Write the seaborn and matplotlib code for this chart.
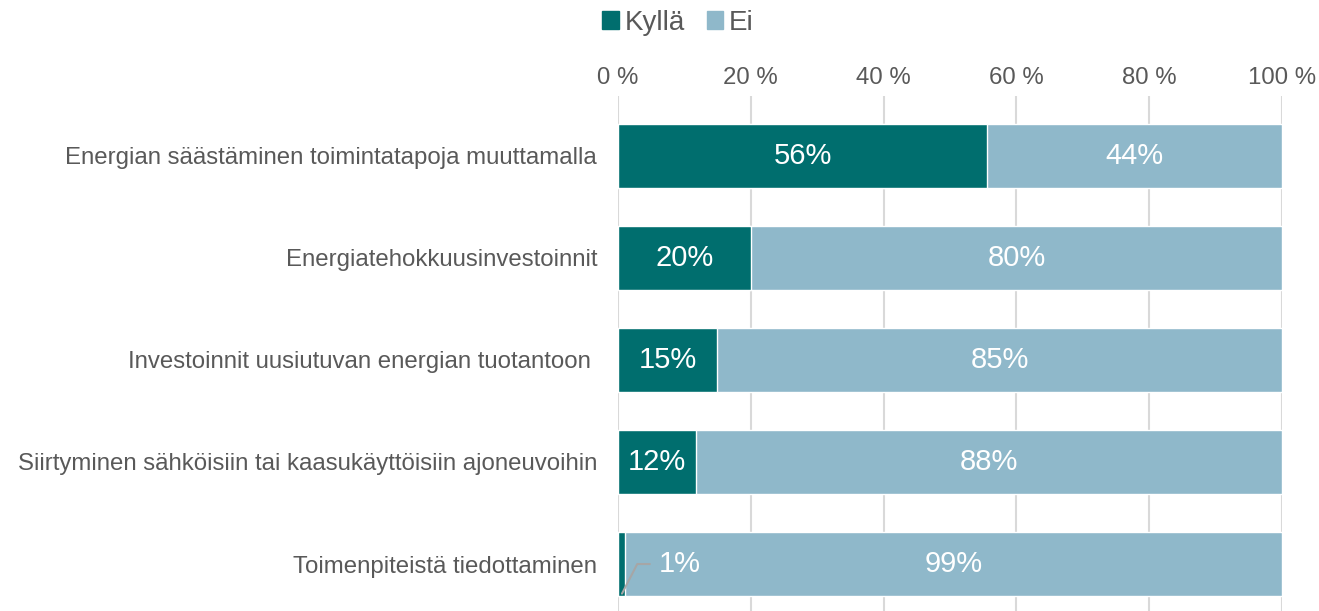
import matplotlib
matplotlib.use("Agg")
import matplotlib.pyplot as plt
import seaborn as sns
import pandas as pd
from matplotlib.patches import Patch

categories = [
    "Energian säästäminen toimintatapoja muuttamalla",
    "Energiatehokkuusinvestoinnit",
    "Investoinnit uusiutuvan energian tuotantoon ",
    "Siirtyminen sähköisiin tai kaasukäyttöisiin ajoneuvoihin",
    "Toimenpiteistä tiedottaminen",
]
kylla = [55.6, 20.0, 14.9, 11.7, 1.0]
ei = [44.4, 80.0, 85.1, 88.3, 99.0]
kylla_labels = ["56%", "20%", "15%", "12%", "1%"]
ei_labels = ["44%", "80%", "85%", "88%", "99%"]
ticks = [0, 20, 40, 60, 80, 100]

c_yes = "#006E6E"
c_no = "#8FB8CA"
c_text = "#595959"

sns.set_theme(style="white")
plt.rcParams["font.family"] = ["Liberation Sans", "DejaVu Sans"]

df = pd.DataFrame({"cat": categories, "kylla": kylla, "ei": ei})
df["total"] = df["kylla"] + df["ei"]

fig = plt.figure(figsize=(13.19, 6.11), dpi=100)
ax = fig.add_axes([618 / 1319, 0.0, 664 / 1319, 1 - 96 / 611])

sns.barplot(data=df, y="cat", x="total", color=c_no, width=0.627,
            saturation=1, orient="h", ax=ax, zorder=2)
sns.barplot(data=df, y="cat", x="kylla", color=c_yes, width=0.627,
            saturation=1, orient="h", ax=ax, zorder=3)

ax.set_xlim(0, 100)
ax.set_ylim(4.46, -0.583)
ax.set_xticks(ticks)
ax.set_xticklabels([f"{t} %" for t in ticks])
ax.xaxis.tick_top()
ax.tick_params(axis="x", length=0, pad=5, labelsize=17.3, labelcolor=c_text)
ax.tick_params(axis="y", length=0, pad=15, labelsize=17.3, labelcolor=c_text)
ax.set_xlabel("")
ax.set_ylabel("")
ax.grid(axis="x", color="#D9D9D9", linewidth=1.5, zorder=0)
ax.set_axisbelow(True)
for s in ax.spines.values():
    s.set_visible(False)

for i in range(len(categories)):
    k, e = kylla[i], ei[i]
    if k >= 5:
        ax.text(k / 2, i, kylla_labels[i], ha="center", va="center",
                color="white", fontsize=21, zorder=5)
    else:
        # small value: label with leader line
        ax.plot([0.6, 2.9, 4.8], [i + 0.29, i + 0.0, i + 0.0],
                color="#A6A6A6", lw=1.5, zorder=5)
        ax.text(9.3, i, kylla_labels[i], ha="center", va="center",
                color="white", fontsize=21, zorder=5)
    ax.text(k + e / 2, i, ei_labels[i], ha="center", va="center",
            color="white", fontsize=21, zorder=5)

handles = [Patch(color=c_yes, label="Kyllä"), Patch(color=c_no, label="Ei")]
fig.legend(handles=handles, loc="upper center", bbox_to_anchor=(0.514, 1.025),
           ncol=2, frameon=False, fontsize=20, labelcolor=c_text,
           handlelength=0.6, handleheight=0.6, handletextpad=0.2,
           columnspacing=0.8)

fig.savefig("out.png", dpi=100)
